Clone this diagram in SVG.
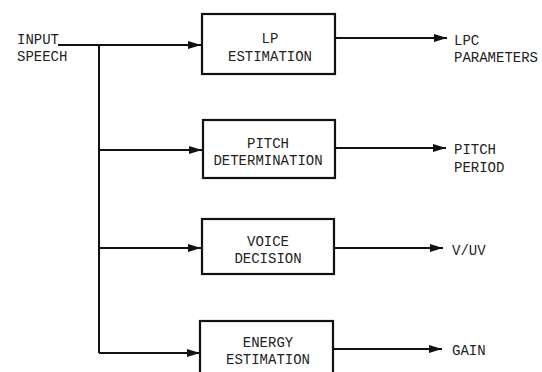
<svg xmlns="http://www.w3.org/2000/svg" width="542" height="372" viewBox="0 0 542 372">
<style>
.box{fill:#fff;stroke:#111;stroke-width:2.2}
.t{font-family:"Liberation Mono","Courier New",monospace;font-size:14px;fill:#222}
.c{text-anchor:middle}
.ln{fill:none;stroke:#111;stroke-width:2}
</style>
<defs>
<marker id="ah" markerWidth="14" markerHeight="10" refX="13" refY="5" orient="auto" markerUnits="userSpaceOnUse">
<path d="M0,1 L13,5 L0,9 Z" fill="#111"/>
</marker>
</defs>
<rect width="542" height="372" fill="#fff"/>
<g id="input">
<text class="t" x="17" y="44">INPUT</text>
<text class="t" x="17" y="61">SPEECH</text>
</g>
<g id="connectors">
<path class="ln" d="M58,45 H99 V353"/>
<path class="ln" d="M99,45 H201" marker-end="url(#ah)"/>
<path class="ln" d="M99,150 H202" marker-end="url(#ah)"/>
<path class="ln" d="M99,248 H201" marker-end="url(#ah)"/>
<path class="ln" d="M99,353 H200" marker-end="url(#ah)"/>
<path class="ln" d="M335,38 H447" marker-end="url(#ah)"/>
<path class="ln" d="M335,148 H446" marker-end="url(#ah)"/>
<path class="ln" d="M334,248 H443" marker-end="url(#ah)"/>
<path class="ln" d="M333,349 H442" marker-end="url(#ah)"/>
</g>
<g id="lp">
<rect class="box" x="202" y="14" width="133" height="60"/>
<text class="t c" x="270" y="43">LP</text>
<text class="t c" x="270" y="61">ESTIMATION</text>
</g>
<g id="pitch">
<rect class="box" x="203" y="120" width="132" height="58"/>
<text class="t c" x="268" y="148">PITCH</text>
<text class="t c" x="268" y="165">DETERMINATION</text>
</g>
<g id="voice">
<rect class="box" x="202" y="219" width="132" height="55"/>
<text class="t c" x="268" y="246">VOICE</text>
<text class="t c" x="268" y="263">DECISION</text>
</g>
<g id="energy">
<rect class="box" x="200" y="321" width="133" height="60"/>
<text class="t c" x="268" y="347">ENERGY</text>
<text class="t c" x="268" y="364">ESTIMATION</text>
</g>
<g id="outputs">
<text class="t" x="454" y="45">LPC</text>
<text class="t" x="454" y="62">PARAMETERS</text>
<text class="t" x="454" y="154">PITCH</text>
<text class="t" x="454" y="172">PERIOD</text>
<text class="t" x="452" y="255">V/UV</text>
<text class="t" x="452" y="355">GAIN</text>
</g>
</svg>
